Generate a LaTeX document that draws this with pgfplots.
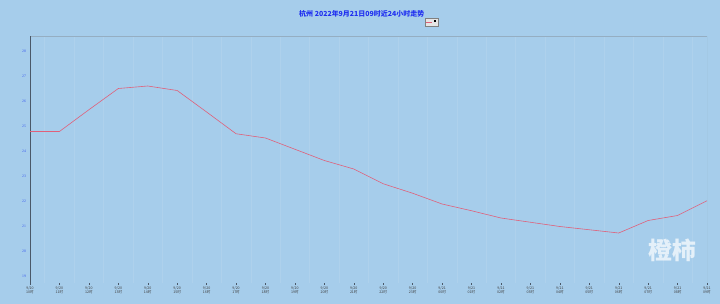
\documentclass[border=0pt]{standalone}
\usepackage{fontspec}
\setmainfont{Liberation Serif}
\newfontfamily\cjk{Noto Sans CJK SC}
\usepackage{pgfplots}
\pgfplotsset{compat=1.18}
\definecolor{bg}{HTML}{A6CDEB}
\definecolor{gridc}{HTML}{AED1EC}
\definecolor{axdark}{HTML}{4A5868}
\definecolor{axlight}{HTML}{95AEC2}
\definecolor{linec}{HTML}{E0607A}
\definecolor{titlec}{HTML}{2030F0}
\definecolor{ytc}{HTML}{3A5AF0}
\begin{document}
\begin{tikzpicture}
\fill[bg] (-30bp,-21bp) rectangle (690bp,283bp);
\useasboundingbox (-30bp,-21bp) rectangle (690bp,283bp);
\begin{axis}[
  at={(0bp,0bp)}, anchor=south west,
  scale only axis, width=677bp, height=247bp,
  xmin=0, xmax=23, ymin=18.74, ymax=28.62,
  axis line style={draw=none},
  xtick pos=lower, ytick pos=left,
  xtick={0,...,23},
  xticklabels={{9/20\\10时},{9/20\\11时},{9/20\\12时},{9/20\\13时},{9/20\\14时},{9/20\\15时},{9/20\\16时},{9/20\\17时},{9/20\\18时},{9/20\\19时},{9/20\\20时},{9/20\\21时},{9/20\\22时},{9/20\\23时},{9/21\\00时},{9/21\\01时},{9/21\\02时},{9/21\\03时},{9/21\\04时},{9/21\\05时},{9/21\\06时},{9/21\\07时},{9/21\\08时},{9/21\\09时}},
  xticklabel style={font=\cjk\fontsize{3.6}{4}\selectfont, align=center, text=black!75, yshift=1bp},
  ytick={19,20,...,28},
  yticklabel style={font=\fontsize{3.8}{4}\selectfont, text=ytc, xshift=1bp},
  /pgf/number format/assume math mode=true,
  minor xtick={0.5,1.5,...,22.5},
  xminorgrids=true,
  minor grid style={gridc, line width=0.5bp},
  major tick length=1.5bp, minor tick length=0pt,
  tick align=outside,
  x tick style={axdark, line width=0.4bp},
  y tick style={draw=none},
  title={\cjk\bfseries 杭州 2022年9月21日09时近24小时走势},
  title style={at={(0.49,1)}, anchor=center, yshift=16bp, text=titlec, font=\fontsize{7}{8}\selectfont},
  legend style={at={(0.594,1.057)}, anchor=center, fill=white!80!gray, draw=gray, inner sep=0.2pt, row sep=0pt, font=\fontsize{2.5}{2.5}\selectfont, legend cell align=left},
  legend image code/.code={\draw[#1] (0bp,0bp) -- (6bp,0bp);},
]
\draw[axlight, line width=0.6bp] (rel axis cs:0,1) -- (rel axis cs:1,1) -- (rel axis cs:1,0);
\draw[axdark, line width=1.3bp] (rel axis cs:0,0) -- (rel axis cs:0,1);
\draw[axdark, line width=0.9bp] (rel axis cs:0,0) -- (rel axis cs:1,0);
\addplot[linec, line width=0.6bp] coordinates {
(0,24.8) (1,24.8) (2,25.67) (3,26.52) (4,26.62) (5,26.44) (6,25.58) (7,24.71)
(8,24.54) (9,24.09) (10,23.64) (11,23.3) (12,22.71) (13,22.33) (14,21.9) (15,21.63)
(16,21.34) (17,21.17) (18,21.0) (19,20.87) (20,20.74) (21,21.24) (22,21.44) (23,22.03)
};
\addlegendentry{\rule{2bp}{2bp}}
\node[text=red!85!white, font=\cjk\fontsize{5}{5.5}\selectfont, align=center] at (axis description cs:-0.0148,0.53) {温\\度};
\end{axis}
\node[text=white, opacity=0.7, font=\cjk\bfseries\fontsize{24}{24}\selectfont, inner sep=0pt] at (642bp,33bp) {橙柿};
\end{tikzpicture}
\end{document}
